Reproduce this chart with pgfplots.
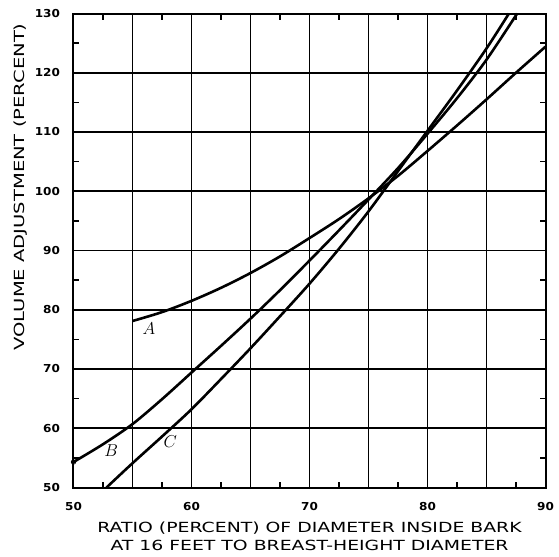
\documentclass[border=0pt]{standalone}
\usepackage{fontspec}
\setmainfont{DejaVu Sans}
\newfontfamily\labelfont[FakeStretch=1.35]{DejaVu Sans}
\newfontfamily\ylabelfont[FakeStretch=1.4]{DejaVu Sans}
\newfontfamily\tickfont[FakeStretch=1.1]{DejaVu Sans Bold}
\usepackage{pgfplots}
\pgfplotsset{compat=1.18}

\begin{document}
\begin{tikzpicture}
\begin{axis}[
  scale only axis,
  width=472bp, height=474bp,
  xmin=50, xmax=90, ymin=50, ymax=130,
  xtick={50,55,...,90},
  xticklabels={50,,60,,70,,80,,90},
  ytick={50,60,...,130},
  minor xtick={52.5,57.5,...,87.5},
  minor ytick={55,65,...,125},
  grid=major,
  grid style={black, line width=1.6bp},
  axis line style={black, line width=2bp},
  major tick length=0pt,
  minor tick length=6bp,
  tick align=inside,
  minor tick style={black, line width=1.5bp},
  /pgf/number format/assume math mode=true,
  ticklabel style={font=\tickfont\fontsize{11}{12}\selectfont},
  xticklabel style={yshift=-11bp},
  yticklabel style={xshift=-10bp},
  xlabel={RATIO (PERCENT) OF DIAMETER INSIDE BARK\\AT 16 FEET TO BREAST-HEIGHT DIAMETER},
  xlabel style={align=center, font=\labelfont\fontsize{14}{18}\selectfont,
    at={(axis description cs:0.5,-0.102)}, anchor=center},
  ylabel={VOLUME ADJUSTMENT (PERCENT)},
  ylabel style={font=\ylabelfont\fontsize{14}{16}\selectfont,
    at={(axis description cs:-0.113,0.634)}, anchor=center},
  clip=false,
]
% curve A
\addplot[black, line width=2.6bp, smooth] coordinates {
  (55,78.1) (57.5,79.6) (60,81.5) (62.5,83.7) (65,86.2) (67.5,89.0)
  (70,92.1) (72.5,95.3) (75,98.8) (77.5,102.6) (80,106.8) (82.5,111.1)
  (85,115.5) (87.5,120.0) (90,124.4)
};
% curve B
\addplot[black, line width=2.6bp, smooth] coordinates {
  (50,54.3) (52.5,57.3) (55,60.7) (57.5,64.9) (60,69.4) (62.5,73.9)
  (65,78.5) (67.5,83.3) (70,88.3) (72.5,93.4) (75,98.6) (77.5,103.9)
  (80,109.7) (82.5,115.7) (85,122.2) (87.6,130)
};
% curve C
\addplot[black, line width=2.6bp, smooth] coordinates {
  (52.8,50) (55,54.1) (57.5,58.6) (60,63.2) (62.5,68.3) (65,73.5)
  (67.5,78.9) (70,84.4) (72.5,90.3) (75,96.6) (77.5,103.4) (80,110.2)
  (82.5,117.0) (85,124.1) (86.9,130)
};
\addplot[black, only marks, mark=o, mark size=2.2bp, line width=0.8bp] coordinates {(50,54.3)};
\node[font=\fontsize{18}{18}\selectfont] at (axis cs:56.4,76.9) {$A$};
\node[font=\fontsize{18}{18}\selectfont] at (axis cs:53.2,56.2) {$B$};
\node[font=\fontsize{18}{18}\selectfont] at (axis cs:58.2,57.8) {$C$};
\end{axis}
\pgfresetboundingbox
\path[use as bounding box] (current axis.south west) ++(-73.5bp,-69.5bp) rectangle ++(559bp,557bp);
\end{tikzpicture}
\end{document}
